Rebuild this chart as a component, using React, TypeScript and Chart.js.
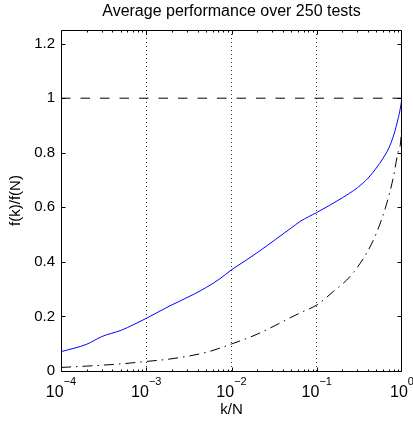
import React, { useEffect, useRef } from 'react';
import { Chart, registerables } from 'chart.js';

Chart.register(...registerables);

// ---- data ----
const titleText = 'Average performance over 250 tests';
const xLabel = 'k/N';
const yLabel = 'f(k)/f(N)';

const blueX = [1e-4, 2e-4, 3e-4, 5.15e-4, 7e-4, 1e-3, 1.9e-3, 3.6e-3, 5.1e-3, 7.3e-3, 1e-2, 1.5e-2, 2.16e-2, 5e-2, 0.0637, 0.1, 0.2, 0.3, 0.4, 0.5, 0.6, 0.7, 0.8, 0.9, 0.95, 1];
const blueY = [0.071, 0.098, 0.126, 0.15, 0.169, 0.193, 0.239, 0.281, 0.307, 0.338, 0.371, 0.407, 0.441, 0.524, 0.548, 0.581, 0.635, 0.672, 0.707, 0.744, 0.78, 0.817, 0.865, 0.925, 0.958, 1.0];

const blackX = [1e-4, 2e-4, 5e-4, 1e-3, 2e-3, 5e-3, 1e-2, 2e-2, 0.0637, 0.1, 0.156, 0.245, 0.386, 0.505, 0.66, 0.79, 0.905, 0.992, 1];
const blackY = [0.013, 0.018, 0.026, 0.035, 0.045, 0.068, 0.099, 0.135, 0.213, 0.242, 0.291, 0.346, 0.433, 0.508, 0.613, 0.709, 0.804, 0.906, 1.0];

const refX = [1e-4, 1];
const refY = [1, 1];

const xTickValues = [1e-4, 1e-3, 1e-2, 1e-1, 1];
const xTickExponents = ['−4', '−3', '−2', '−1', '0'];
const yTickValues = [0, 0.2, 0.4, 0.6, 0.8, 1, 1.2];

const FONT = "'Liberation Sans', Arial, Helvetica, sans-serif";

const matlabAxes = {
  id: 'matlabAxes',
  afterDraw(chart: any) {
    const { ctx, chartArea: a, scales } = chart;
    const xs = scales.x;
    const ys = scales.y;
    ctx.save();
    ctx.setLineDash([]);
    ctx.strokeStyle = '#000';
    ctx.lineWidth = 1;
    const L = Math.round(a.left) + 0.5;
    const R = Math.round(a.right) - 0.5;
    const T = Math.round(a.top) + 0.5;
    const B = Math.round(a.bottom) + 0.5;
    ctx.beginPath();
    ctx.rect(L, T, R - L, B - T);
    ctx.stroke();

    // x ticks (major + minor), inward, bottom and top
    ctx.beginPath();
    for (let d = -4; d <= 0; d++) {
      for (let k = 1; k <= 9; k++) {
        if (d === 0 && k > 1) break;
        const v = k * Math.pow(10, d);
        const len = k === 1 ? 4 : 2;
        let px = Math.round(xs.getPixelForValue(v)) + 0.5;
        if (px > R) px = R;
        ctx.moveTo(px, B);
        ctx.lineTo(px, B - len);
        ctx.moveTo(px, T);
        ctx.lineTo(px, T + len);
      }
    }
    // y ticks, inward, left and right
    for (const v of yTickValues) {
      const py = Math.round(ys.getPixelForValue(v)) + 0.5;
      ctx.moveTo(L, py);
      ctx.lineTo(L + 4, py);
      ctx.moveTo(R, py);
      ctx.lineTo(R - 4, py);
    }
    ctx.stroke();

    // x tick labels 10^n
    ctx.fillStyle = '#000';
    ctx.textBaseline = 'alphabetic';
    ctx.textAlign = 'left';
    const baseFont = `16px ${FONT}`;
    const expFont = `11px ${FONT}`;
    xTickValues.forEach((v, i) => {
      const px = xs.getPixelForValue(v);
      ctx.font = baseFont;
      const wb = ctx.measureText('10').width;
      ctx.font = expFont;
      const we = ctx.measureText(xTickExponents[i]).width;
      const x0 = px - (wb + we) / 2;
      ctx.font = baseFont;
      ctx.fillText('10', x0, 397);
      ctx.font = expFont;
      ctx.fillText(xTickExponents[i], x0 + wb, 385);
    });
    ctx.restore();
  },
};

export default function App() {
  const ref = useRef<HTMLCanvasElement | null>(null);

  useEffect(() => {
    if (!ref.current) return;
    Chart.defaults.font.family = FONT;
    Chart.defaults.color = '#000';
    const chart = new Chart(ref.current, {
      type: 'line',
      data: {
        datasets: [
          {
            label: 'reference',
            data: refX.map((x, i) => ({ x, y: refY[i] })),
            borderColor: '#000',
            borderWidth: 1,
            borderDash: [9.5, 10],
            pointRadius: 0,
            tension: 0,
          },
          {
            label: 'average',
            data: blueX.map((x, i) => ({ x, y: blueY[i] })),
            borderColor: '#0000ff',
            borderWidth: 1,
            pointRadius: 0,
            cubicInterpolationMode: 'monotone',
          },
          {
            label: 'bound',
            data: blackX.map((x, i) => ({ x, y: blackY[i] })),
            borderColor: '#000',
            borderWidth: 1,
            borderDash: [10, 5, 1.5, 5],
            pointRadius: 0,
            cubicInterpolationMode: 'monotone',
          },
        ],
      },
      options: {
        responsive: false,
        animation: false,
        devicePixelRatio: 1,
        layout: { padding: { left: 0, right: 11, top: 0, bottom: 0 } },
        plugins: {
          legend: { display: false },
          tooltip: { enabled: false },
          title: {
            display: true,
            text: titleText,
            color: '#000',
            font: { size: 16, weight: 'normal', family: FONT },
            padding: { top: 2, bottom: 8.8 },
            fullSize: false,
          },
        },
        scales: {
          x: {
            type: 'logarithmic',
            min: 1e-4,
            max: 1,
            afterBuildTicks: (s: any) => {
              s.ticks = xTickValues.map((v) => ({ value: v }));
            },
            afterFit: (s: any) => {
              s.height = 51;
            },
            ticks: { display: false },
            grid: {
              display: true,
              drawTicks: false,
              lineWidth: 1,
              color: (c: any) => (c.index === 0 || c.index === xTickValues.length - 1 ? 'rgba(0,0,0,0)' : '#333'),
            },
            border: { display: false, dash: [1, 3] },
            title: {
              display: true,
              text: xLabel,
              color: '#000',
              font: { size: 15, family: FONT },
              padding: { top: 0, bottom: 3 },
            },
          },
          y: {
            type: 'linear',
            min: 0,
            max: 1.25,
            afterBuildTicks: (s: any) => {
              s.ticks = yTickValues.map((v) => ({ value: v }));
            },
            afterFit: (s: any) => {
              s.width = 61;
            },
            ticks: {
              font: { size: 15, family: FONT },
              color: '#000',
              padding: 6,
              callback: (v: any) => String(Math.round(Number(v) * 10) / 10),
            },
            grid: { display: false, drawTicks: false },
            border: { display: false },
            title: {
              display: true,
              text: yLabel,
              color: '#000',
              font: { size: 15, family: FONT },
              padding: { top: 7, bottom: 0 },
            },
          },
        },
      },
      plugins: [matlabAxes],
    } as any);
    return () => chart.destroy();
  }, []);

  return (
    <div style={{ position: 'fixed', left: 0, top: 0, width: 413, height: 422, background: '#fff' }}>
      <canvas ref={ref} width={413} height={422} style={{ display: 'block' }} />
    </div>
  );
}
